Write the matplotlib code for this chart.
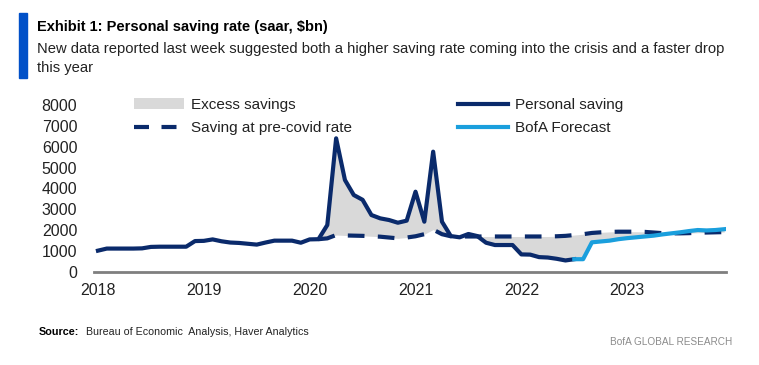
import matplotlib
matplotlib.use("Agg")
import matplotlib.pyplot as plt
from matplotlib.patches import Patch, Rectangle
from matplotlib.lines import Line2D

plt.rcParams['font.family'] = ['Liberation Sans', 'DejaVu Sans']

NAVY = '#0a2a6b'
LIGHT = '#1a9fdd'
FILL = '#d9d9d9'

# monthly, Jan 2018 .. Jul 2022 (actual)
personal_saving = [
    1010, 1110, 1110, 1110, 1110, 1120, 1190, 1200, 1200, 1200, 1200, 1470,
    1480, 1550, 1460, 1400, 1380, 1340, 1300, 1400, 1490, 1490, 1490, 1390,
    1550, 1560, 2240, 6400, 4400, 3680, 3450, 2720, 2560, 2480, 2350, 2450,
    3840, 2400, 5760, 2400, 1710, 1650, 1810, 1710, 1390, 1280, 1280, 1280,
    830, 820, 700, 680, 620, 540, 600,
]
# Jul 2022 .. Dec 2023
bofa_forecast = [
    600, 600, 1410, 1450, 1490, 1560, 1610, 1650, 1690, 1730, 1790, 1840,
    1890, 1950, 2000, 1980, 2000, 2040,
]
# Feb 2020 .. Dec 2023
pre_covid = [
    1560, 1600, 1760, 1740, 1730, 1720, 1700, 1680, 1640, 1600, 1640,
    1700, 1800, 2020, 1800, 1700, 1690, 1690, 1690, 1690, 1690, 1690, 1690,
    1690, 1690, 1690, 1690, 1700, 1720, 1760, 1800, 1860, 1890, 1910, 1920,
    1920, 1920, 1910, 1880, 1850, 1840, 1840, 1850, 1870, 1880, 1890, 1900,
]
year_labels = ['2018', '2019', '2020', '2021', '2022', '2023']

x_actual = list(range(len(personal_saving)))
x_fc = list(range(len(personal_saving) - 1, len(personal_saving) - 1 + len(bofa_forecast)))
x_pre = list(range(25, 25 + len(pre_covid)))

combined = personal_saving + bofa_forecast[1:]
comb_pre = combined[25:]

fig = plt.figure(figsize=(7.59, 3.65), dpi=100)
ax = fig.add_axes([94 / 759, 1 - 271.7 / 365, 632 / 759, 166.7 / 365])

ax.fill_between(x_pre, comb_pre, pre_covid, color=FILL, lw=0, zorder=1)
ax.plot(x_pre, pre_covid, color=NAVY, lw=3, dashes=(4, 3.2), zorder=2)
ax.plot(x_actual, personal_saving, color=NAVY, lw=3, zorder=3, solid_joinstyle='round')
ax.plot(x_fc, bofa_forecast, color=LIGHT, lw=3, zorder=4, solid_joinstyle='round')

ax.set_xlim(-0.45, 71.2)
ax.set_ylim(0, 8000)
ax.set_yticks(range(0, 8001, 1000))
ax.set_xticks([12 * i for i in range(len(year_labels))])
ax.set_xticklabels(year_labels)
for s in ['top', 'right', 'left']:
    ax.spines[s].set_visible(False)
ax.spines['bottom'].set_color('#7f7f7f')
ax.spines['bottom'].set_linewidth(2)
ax.tick_params(axis='both', length=0, labelsize=11.5, colors='#222222')
ax.tick_params(axis='y', pad=12)
ax.tick_params(axis='x', pad=8)

leg_kw = dict(loc='upper left', bbox_transform=fig.transFigure, frameon=False,
              fontsize=11, handlelength=3.3, handletextpad=0.4, labelspacing=0.6,
              borderpad=0, borderaxespad=0, labelcolor='#222222')
h1 = [Patch(facecolor=FILL, edgecolor='none'),
      Line2D([], [], color=NAVY, lw=3, dashes=(3.6, 3))]
leg1 = ax.legend(h1, ['Excess savings', 'Saving at pre-covid rate'],
                 bbox_to_anchor=(134 / 759, 1 - 98 / 365), **leg_kw)
ax.add_artist(leg1)
h2 = [Line2D([], [], color=NAVY, lw=3), Line2D([], [], color=LIGHT, lw=3)]
ax.legend(h2, ['Personal saving', 'BofA Forecast'],
          bbox_to_anchor=(458 / 759, 1 - 98 / 365), **leg_kw)

fig.patches.append(Rectangle((19 / 759, 1 - 78 / 365), 8 / 759, 65 / 365,
                             transform=fig.transFigure, color='#0050c8'))
fig.text(37 / 759, 1 - 27 / 365, 'Exhibit 1: Personal saving rate (saar, $bn)',
         fontsize=10.5, fontweight='bold', va='center', ha='left')
fig.text(37 / 759, 1 - 49 / 365,
         'New data reported last week suggested both a higher saving rate coming into the crisis and a faster drop',
         fontsize=10.6, va='center', ha='left', color='#222222')
fig.text(37 / 759, 1 - 68 / 365, 'this year', fontsize=10.6, va='center', ha='left', color='#222222')
fig.text(39 / 759, 1 - 332 / 365, 'Source:', fontsize=7.8, fontweight='bold', va='center', ha='left')
fig.text(86 / 759, 1 - 332 / 365, 'Bureau of Economic  Analysis, Haver Analytics',
         fontsize=7.7, va='center', ha='left', color='#222222')
fig.text(732 / 759, 1 - 342 / 365, 'BofA GLOBAL RESEARCH', fontsize=7.2,
         color='#8c8c8c', va='center', ha='right')

fig.savefig('out.png', dpi=100)
